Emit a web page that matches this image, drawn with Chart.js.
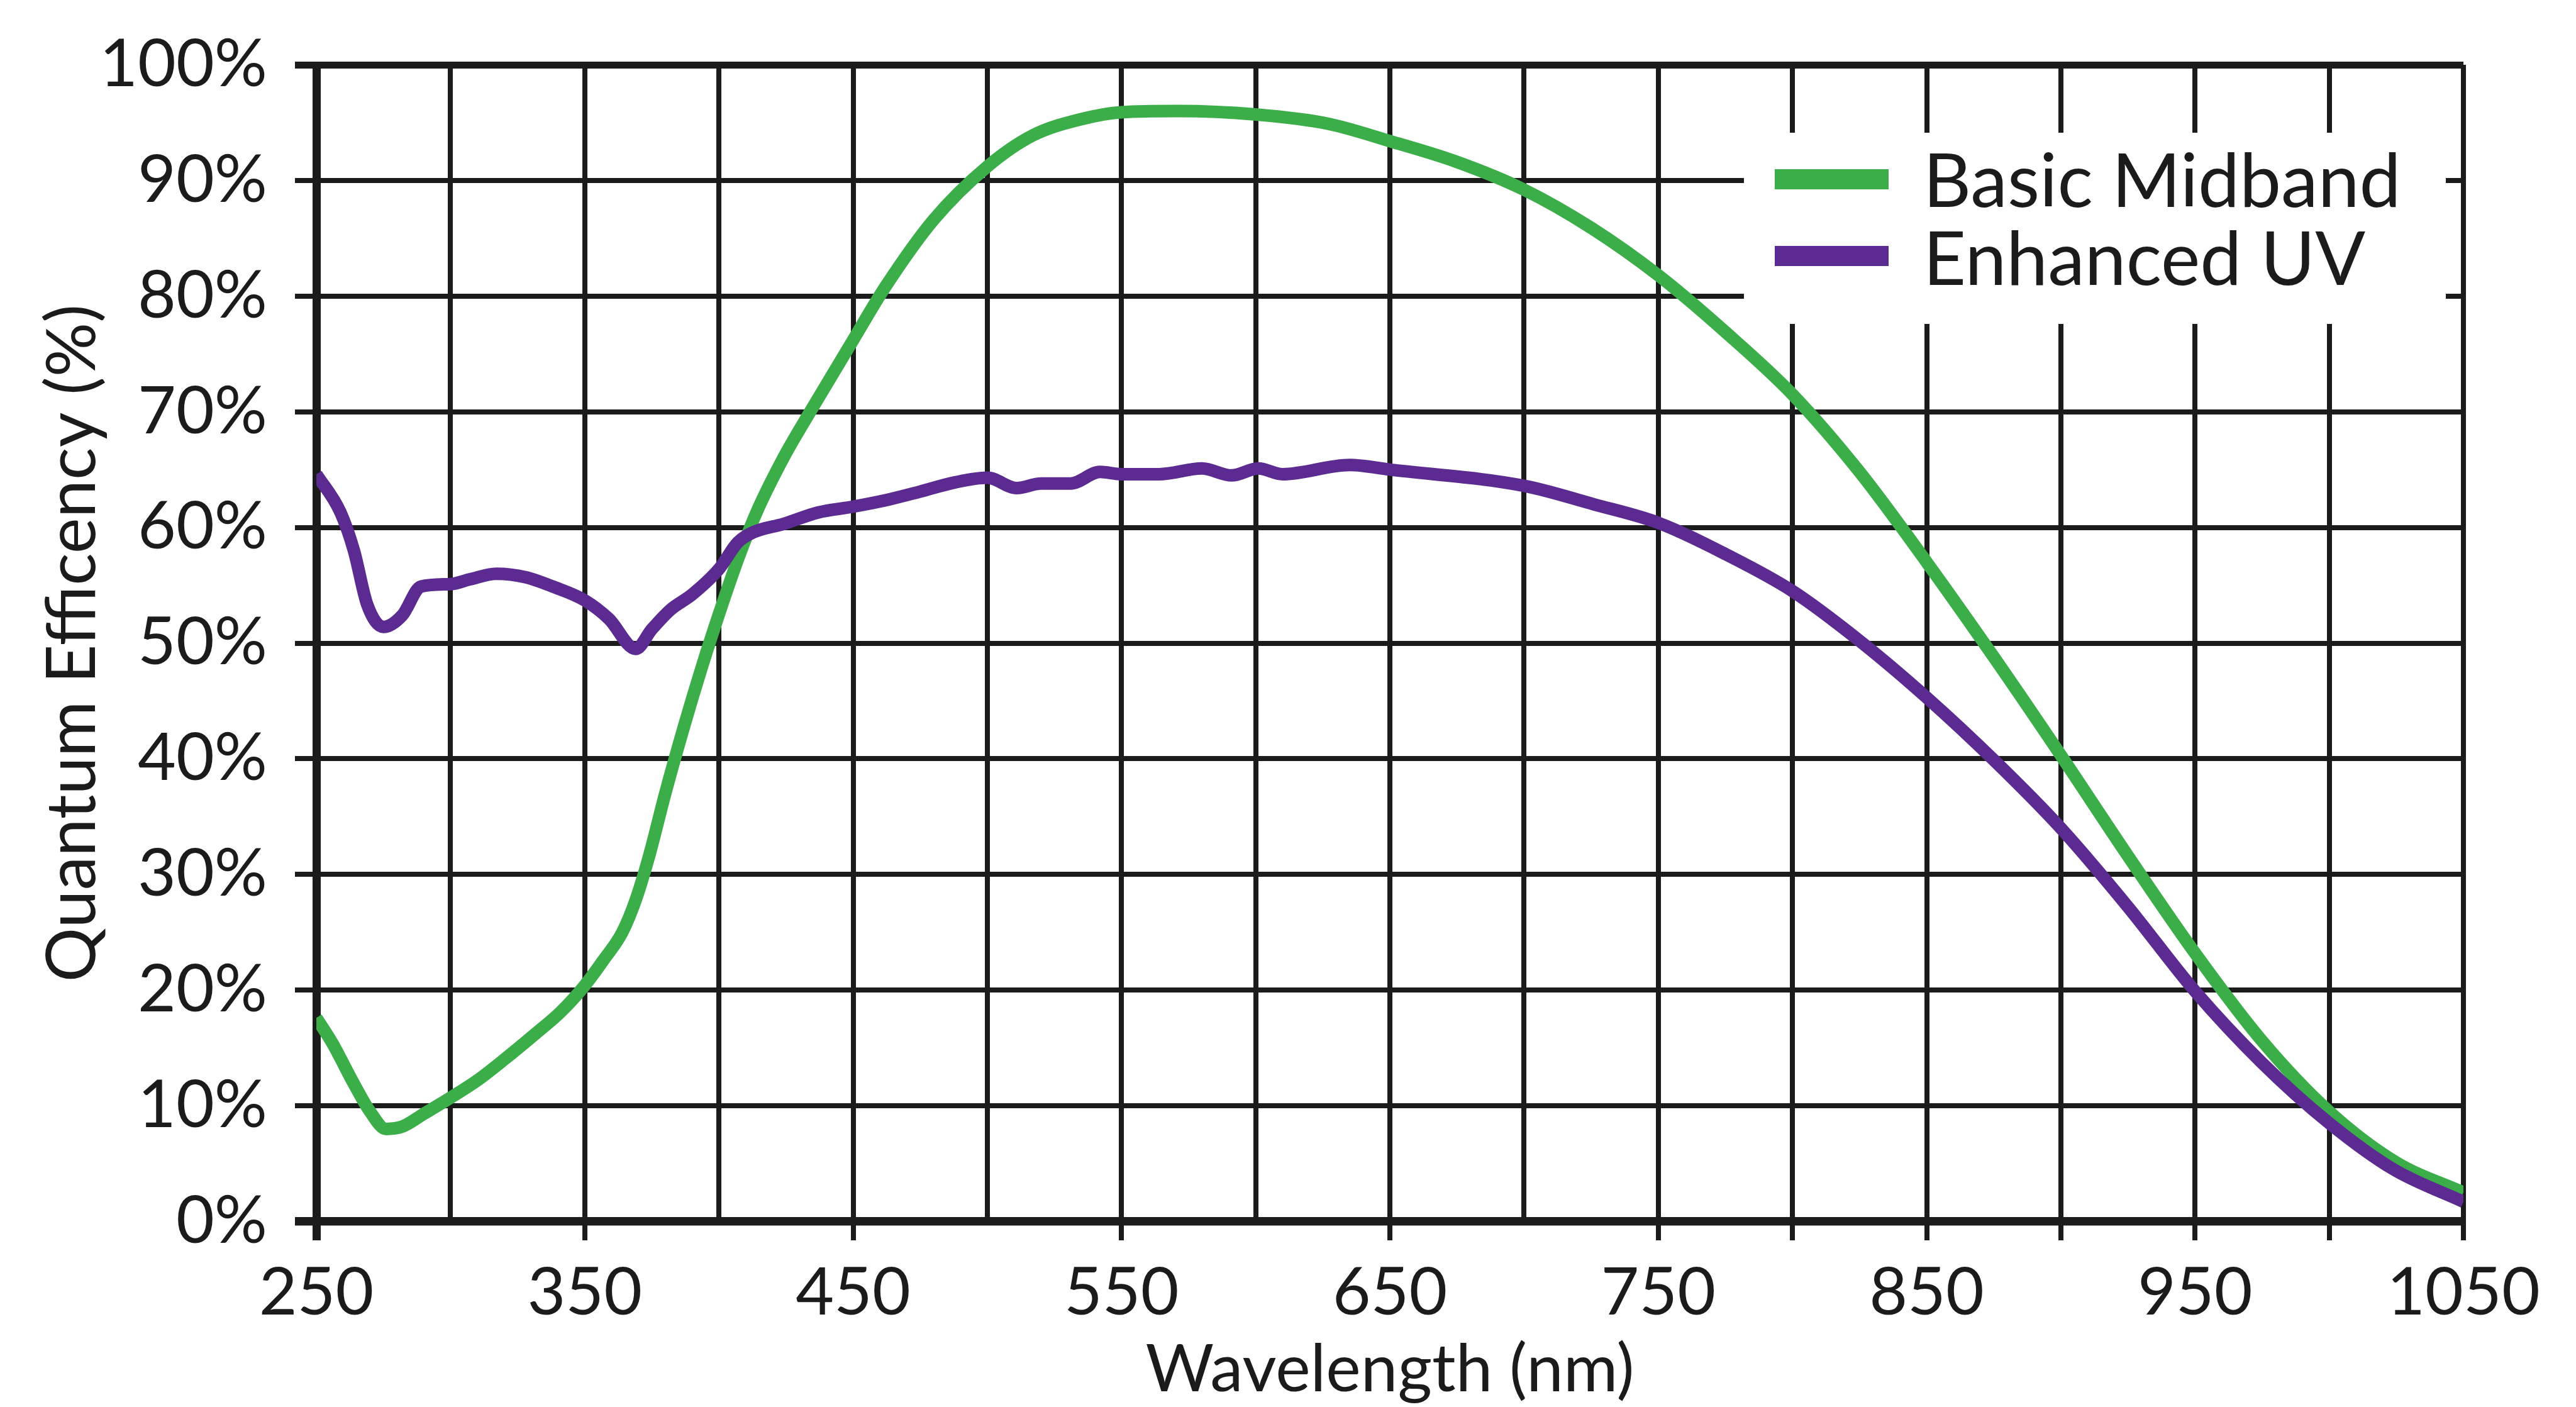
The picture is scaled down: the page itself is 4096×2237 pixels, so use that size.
<!DOCTYPE html>
<html>
<head>
<meta charset="utf-8">
<title>Quantum Efficiency</title>
<script src="https://cdn.jsdelivr.net/npm/chart.js@4.4.1/dist/chart.umd.min.js"></script>
<style>
  html, body { margin: 0; padding: 0; background: #fff; }
  canvas { display: block; }
</style>
</head>
<body>
<canvas id="qe-chart" width="4096" height="2237"></canvas>
<script>
// series
const seriesNames = ['Basic Midband', 'Enhanced UV'];
const seriesColors = ['#3cae49', '#5c2b92'];

const midbandNm = [250, 256, 264, 270, 276, 282, 290, 300, 310, 320, 332, 341, 350, 357, 364, 369, 374, 380, 387, 394,
  400, 407, 414, 424, 434, 450, 462, 480, 500, 517, 535, 550, 571, 600, 627, 650, 675, 700, 725, 750,
  775, 800, 825, 850, 875, 900, 925, 950, 975, 1000, 1025, 1050];
const midbandQE = [17.6, 15.4, 11.9, 9.5, 8.0, 8.2, 9.3, 10.7, 12.2, 14.0, 16.3, 18.1, 20.4, 22.6, 25.0, 27.8, 31.6, 37.0, 42.8, 48.2,
  52.5, 57.2, 61.3, 66.0, 70.0, 76.2, 80.8, 86.6, 91.2, 93.9, 95.3, 95.9, 96.0, 95.7, 94.9, 93.4, 91.6, 89.2, 85.9, 81.8,
  76.9, 71.5, 64.8, 57.0, 48.8, 40.3, 31.6, 23.2, 15.6, 9.5, 5.1, 2.5];

const uvNm = [250, 259, 264, 269, 275, 282, 289, 300, 307, 317, 328, 338, 350, 359, 369, 375, 382, 390, 400, 407,
  413, 424, 437, 450, 463, 475, 488, 500, 511, 520, 531, 542, 550, 564, 580, 591, 601, 610, 635, 650,
  700, 726, 750, 775, 800, 825, 850, 875, 900, 925, 950, 975, 1000, 1024, 1050];
const uvQE = [64.6, 61.3, 58.0, 53.3, 51.4, 52.4, 54.9, 55.1, 55.5, 56.0, 55.7, 54.9, 53.7, 52.1, 49.5, 51.2, 52.9, 54.2, 56.4, 58.7,
  59.6, 60.3, 61.3, 61.8, 62.4, 63.1, 63.9, 64.3, 63.4, 63.8, 63.8, 64.8, 64.6, 64.6, 65.1, 64.5, 65.1, 64.6, 65.4, 65.0,
  63.6, 62.0, 60.4, 57.7, 54.5, 50.2, 45.3, 39.9, 34.0, 27.2, 19.9, 13.7, 8.5, 4.5, 1.7];

const xGridTicks = [250, 300, 350, 400, 450, 500, 550, 600, 650, 700, 750, 800, 850, 900, 950, 1000, 1050];
const xLabelTicks = [250, 350, 450, 550, 650, 750, 850, 950, 1050];
const yGridTicks = [0, 10, 20, 30, 40, 50, 60, 70, 80, 90, 100];

const ink = '#1b1b1b';
const fontFamily = 'Lato, "Open Sans", sans-serif';

const toPoints = (xs, ys) => xs.map((x, i) => ({ x: x, y: ys[i] }));

// legend drawn inside the plot, top right, on a white box that hides the grid
const insideLegend = {
  id: 'insideLegend',
  afterDraw(chart) {
    const ctx = chart.ctx;
    const area = chart.chartArea;
    const boxLeft = area.right - 1144;
    const boxTop = area.top + 108;
    ctx.save();
    ctx.fillStyle = '#fff';
    ctx.fillRect(boxLeft, boxTop, 1116, 304);
    const swatchY = [182, 304];
    const textY = [226, 350];
    chart.data.datasets.forEach((ds, i) => {
      ctx.strokeStyle = ds.borderColor;
      ctx.lineWidth = 32;
      ctx.lineCap = 'butt';
      ctx.beginPath();
      ctx.moveTo(boxLeft + 49, area.top + swatchY[i]);
      ctx.lineTo(boxLeft + 230, area.top + swatchY[i]);
      ctx.stroke();
      ctx.fillStyle = ink;
      ctx.font = '118px ' + fontFamily;
      ctx.textBaseline = 'alphabetic';
      ctx.textAlign = 'left';
      ctx.fillText(ds.label, boxLeft + 285, area.top + textY[i]);
    });
    ctx.restore();
  }
};

const ctx = document.getElementById('qe-chart').getContext('2d');

new Chart(ctx, {
  type: 'line',
  data: {
    datasets: [
      {
        label: seriesNames[0],
        data: toPoints(midbandNm, midbandQE),
        borderColor: seriesColors[0],
        borderWidth: 20,
        pointRadius: 0,
        cubicInterpolationMode: 'monotone',
        borderJoinStyle: 'round',
        fill: false,
        order: 2
      },
      {
        label: seriesNames[1],
        data: toPoints(uvNm, uvQE),
        borderColor: seriesColors[1],
        borderWidth: 20,
        pointRadius: 0,
        cubicInterpolationMode: 'monotone',
        borderJoinStyle: 'round',
        fill: false,
        order: 1
      }
    ]
  },
  options: {
    responsive: false,
    animation: false,
    devicePixelRatio: 1,
    layout: { padding: { top: 103, right: 179, left: 0, bottom: 0 } },
    plugins: {
      legend: { display: false },
      tooltip: { enabled: false }
    },
    scales: {
      x: {
        type: 'linear',
        min: 250,
        max: 1050,
        afterBuildTicks: (s) => { s.ticks = xGridTicks.map(v => ({ value: v })); },
        afterFit: (s) => { s.height = 295; s.paddingLeft = 0; s.paddingRight = 0; },
        border: { display: false },
        grid: {
          color: ink,
          lineWidth: (c) => (c.tick && c.tick.value === 250) ? 13 : 8,
          tickLength: 30,
          tickColor: (c) => {
            if (!c.tick) return ink;
            const v = c.tick.value;
            return (xLabelTicks.includes(v) || v >= 750) ? ink : 'rgba(0,0,0,0)';
          }
        },
        ticks: {
          autoSkip: false,
          maxRotation: 0,
          color: ink,
          padding: 21,
          font: { family: fontFamily, size: 105 },
          callback: (v) => xLabelTicks.includes(v) ? String(v) : ''
        },
        title: {
          display: true,
          text: 'Wavelength (nm)',
          color: ink,
          font: { family: fontFamily, size: 105, lineHeight: 1 },
          padding: { top: 0, bottom: 6 }
        }
      },
      y: {
        min: 0,
        max: 100,
        afterBuildTicks: (s) => { s.ticks = yGridTicks.map(v => ({ value: v })); },
        afterFit: (s) => { s.width = 503; s.paddingTop = 0; s.paddingBottom = 0; },
        border: { display: false },
        grid: {
          color: ink,
          lineWidth: (c) => {
            if (!c.tick) return 8;
            if (c.tick.value === 0) return 13.5;
            if (c.tick.value === 100) return 11;
            return 8;
          },
          tickLength: 34
        },
        ticks: {
          color: ink,
          padding: 44,
          font: { family: fontFamily, size: 105 },
          callback: (v) => v + '%'
        },
        title: {
          display: true,
          text: 'Quantum Efficency (%)',
          color: ink,
          font: { family: fontFamily, size: 108, lineHeight: 1 },
          padding: { top: 62, bottom: 0 }
        }
      }
    }
  },
  plugins: [insideLegend]
});
</script>
</body>
</html>
